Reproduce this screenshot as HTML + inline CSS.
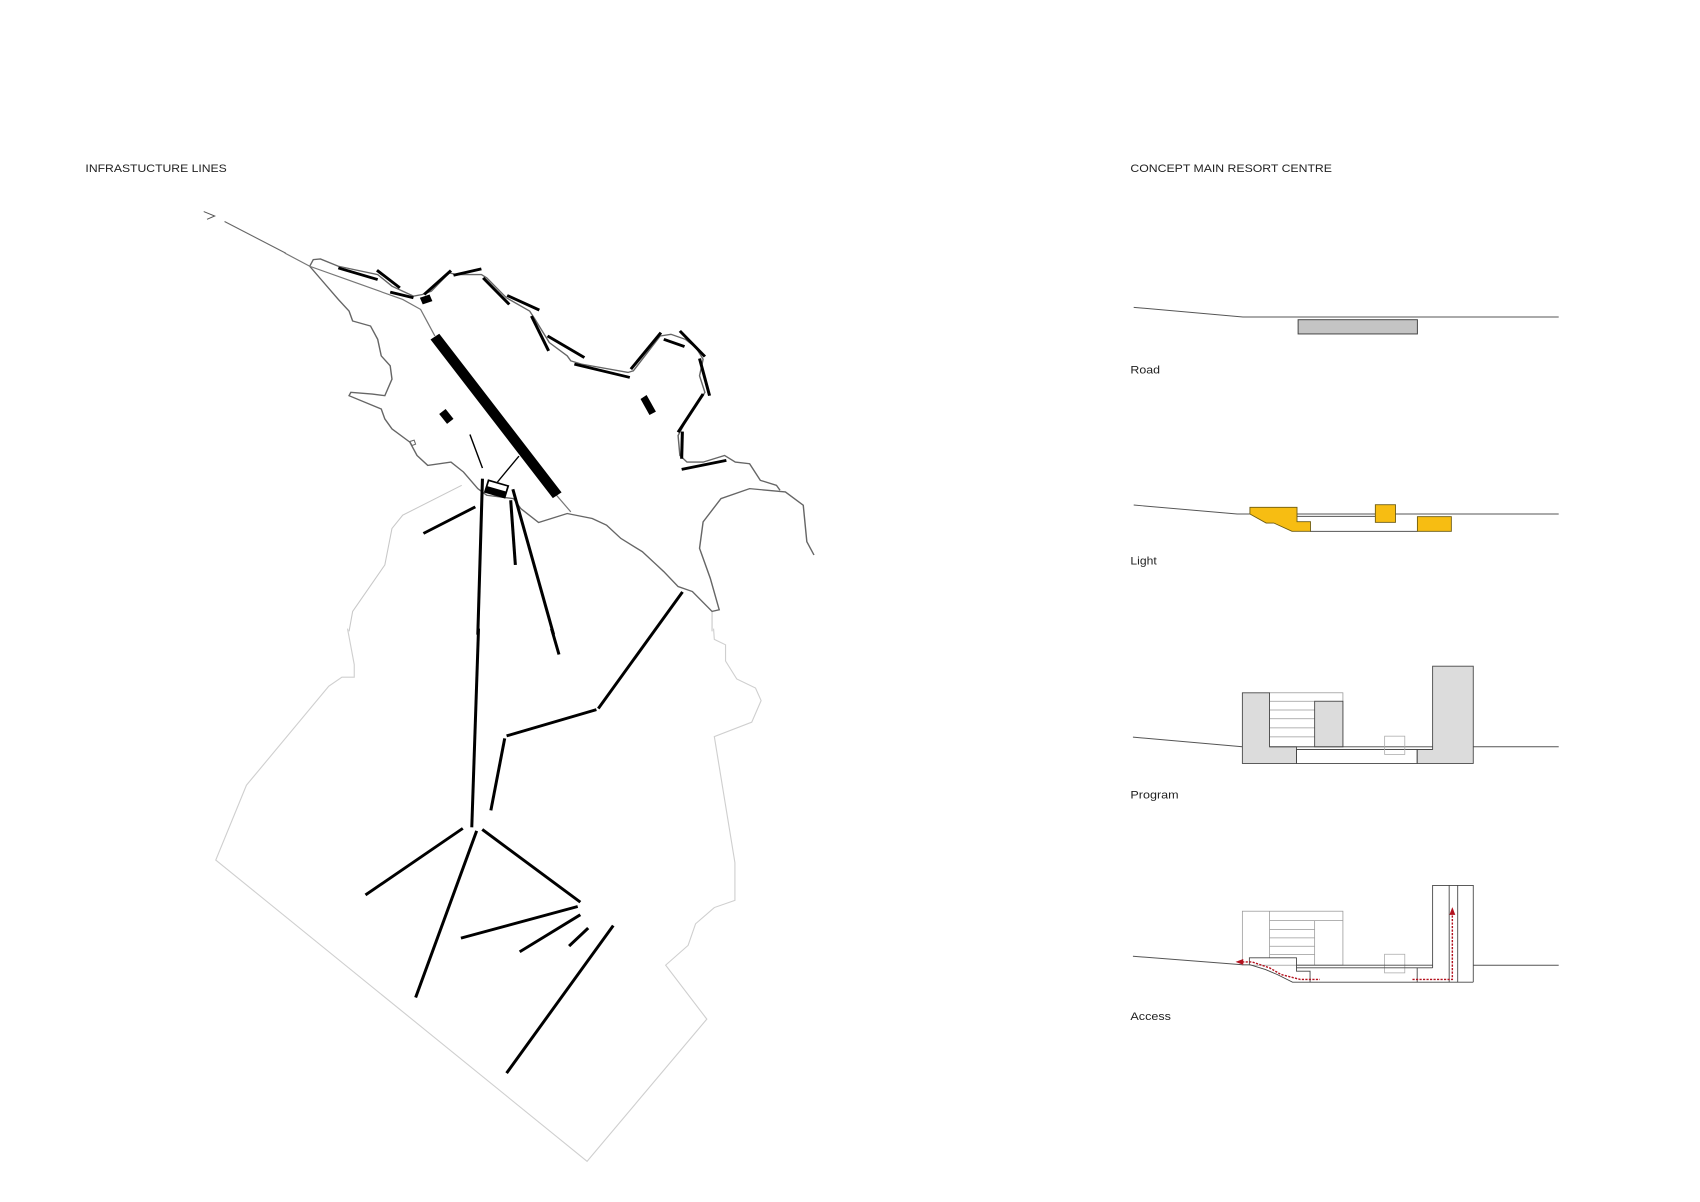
<!DOCTYPE html>
<html><head><meta charset="utf-8"><style>
html,body{margin:0;padding:0;background:#fff;}
svg{display:block;}
text{font-family:"Liberation Sans",sans-serif;fill:#222;}
</style></head><body>
<svg width="1700" height="1202" viewBox="0 0 1552 1097" xmlns="http://www.w3.org/2000/svg">
<rect width="1552" height="1097" fill="#fff"/>
<text x="78" y="157" font-size="10" textLength="129" lengthAdjust="spacingAndGlyphs">INFRASTUCTURE LINES</text>
<text x="1032" y="157" font-size="10" textLength="184" lengthAdjust="spacingAndGlyphs">CONCEPT MAIN RESORT CENTRE</text>

<polyline points="186,193 196,197 189,200" fill="none" stroke="#555" stroke-width="0.9"/>
<line x1="205" y1="202" x2="261" y2="231" stroke="#666" stroke-width="1"/>

<g transform="translate(259.9,212.6) scale(0.3265,0.303)" fill="none" stroke-linecap="butt">
  <polyline points="495,760 330,850 300,890 280,1000 190,1140 180,1200" stroke="#c8c8c8" stroke-width="3"/>
  <polyline points="1195,1140 1195,1200" stroke="#c8c8c8" stroke-width="3"/>
  <path d="M70,100 L80,80 L100,78 L150,100 L260,125 L300,160 L360,190 L385,185 L410,175 L460,120 L480,125 L550,125 L565,135 L620,195 L685,235 L700,260 L740,330 L790,370 L800,385 L830,395 L960,420 L975,415 L1050,310 L1080,305 L1120,320 L1150,345 L1170,380 L1160,430 L1175,480 L1150,520 L1120,570 L1100,610 L1105,670 L1125,690 L1170,690 L1230,670 L1260,690 L1300,695 L1330,745 L1375,760 L1385,775" stroke="#666" stroke-width="4"/>
  <path d="M1480,970 L1460,930 L1450,820 L1400,780 L1300,770 L1220,800 L1170,870 L1160,950 L1190,1040 L1215,1135 L1195,1140 L1140,1080 L1100,1065 L1060,1020 L1040,1000 L1000,960 L940,920 L900,880 L860,860 L790,845 L710,872 L660,830 L640,800 L565,790 L540,770 L500,720 L465,690 L400,700 L370,670 L350,630 L300,590 L280,560 L270,530 L180,490 L185,480 L245,485 L280,490 L300,440 L295,400 L270,370 L260,320 L240,280 L190,265 L180,235 L150,200 L110,150 L70,100" stroke="#666" stroke-width="4"/>
  <polyline points="0,60 70,100 200,150 330,200 380,230 400,270 420,310" stroke="#777" stroke-width="3.5"/>
  <polyline points="760,790 800,840" stroke="#777" stroke-width="3.5"/>
  <line x1="420" y1="312" x2="762" y2="790" stroke="#000" stroke-width="30"/>
  <g stroke="#000" stroke-width="8.5">
    <line x1="150" y1="105" x2="260" y2="140"/>
    <line x1="258" y1="112" x2="322" y2="165"/>
    <line x1="295" y1="178" x2="360" y2="195"/>
    <line x1="390" y1="185" x2="465" y2="113"/>
    <line x1="472" y1="127" x2="550" y2="108"/>
    <line x1="555" y1="135" x2="628" y2="215"/>
    <line x1="622" y1="188" x2="712" y2="232"/>
    <line x1="690" y1="250" x2="738" y2="355"/>
    <line x1="735" y1="310" x2="838" y2="375"/>
    <line x1="810" y1="395" x2="965" y2="435"/>
    <line x1="968" y1="410" x2="1052" y2="300"/>
    <line x1="1060" y1="320" x2="1118" y2="342"/>
    <line x1="1105" y1="295" x2="1175" y2="372"/>
    <line x1="1160" y1="378" x2="1188" y2="490"/>
    <line x1="1170" y1="485" x2="1100" y2="600"/>
    <line x1="1112" y1="598" x2="1110" y2="680"/>
    <line x1="1110" y1="712" x2="1235" y2="685"/>
    <line x1="533" y1="825" x2="388" y2="905"/>
    <line x1="553" y1="740" x2="540" y2="1210"/>
    <line x1="632" y1="805" x2="645" y2="1000"/>
    <line x1="638" y1="772" x2="752" y2="1210"/>
  </g>
  <g stroke="#000" stroke-width="4">
    <line x1="518" y1="607" x2="553" y2="708"/>
    <line x1="655" y1="672" x2="595" y2="750"/>
  </g>
  <polygon points="378,195 405,185 413,205 386,215" fill="#000" stroke="none"/>
  <polygon points="432,545 450,530 472,560 454,575" fill="#000" stroke="none"/>
  <polygon points="995,500 1012,488 1038,538 1020,548" fill="#000" stroke="none"/>
  <polygon points="570,745 625,762 615,797 560,780" fill="#fff" stroke="#000" stroke-width="5"/>
  <polygon points="565,762 620,779 615,797 560,780" fill="#000"/>
  <path d="M350,628 L362,624 L366,636 L356,640 Z" stroke="#666" stroke-width="3"/>
</g>

<g transform="translate(184,573.7) scale(0.3417,0.3286)" fill="none">
  <polyline points="390,0 408,100 408,135 375,135 340,160 120,435 38,643 1030,1480 1350,1085 1240,935 1300,880 1320,820 1370,775 1425,755 1425,650 1370,300 1470,260 1495,200 1480,165 1430,140 1400,90 1400,45 1370,30 1368,0" stroke="#cfcfcf" stroke-width="3"/>
  <g stroke="#000" stroke-width="8">
    <line x1="740" y1="0" x2="722" y2="552"/>
    <line x1="935" y1="0" x2="955" y2="72"/>
    <line x1="1285" y1="-102" x2="1060" y2="222"/>
    <line x1="1055" y1="225" x2="815" y2="298"/>
    <line x1="810" y1="305" x2="773" y2="505"/>
    <line x1="698" y1="555" x2="438" y2="740"/>
    <line x1="735" y1="562" x2="572" y2="1025"/>
    <line x1="750" y1="558" x2="1012" y2="760"/>
    <line x1="1005" y1="772" x2="693" y2="860"/>
    <line x1="1012" y1="795" x2="850" y2="898"/>
    <line x1="1033" y1="832" x2="982" y2="882"/>
    <line x1="1100" y1="825" x2="815" y2="1235"/>
  </g>
</g>

<polyline points="1035,280.4 1134.7,289.2 1423,289.2" fill="none" stroke="#555" stroke-width="0.9"/>
<rect x="1185.1" y="291.7" width="108.9" height="13" fill="#c4c4c4" stroke="#444" stroke-width="0.9"/>
<text x="1032" y="341" font-size="10" textLength="27" lengthAdjust="spacingAndGlyphs">Road</text>

<polyline points="1035,460.9 1129.4,469.1 1141,469.1" fill="none" stroke="#555" stroke-width="0.9"/>
<line x1="1184" y1="469.1" x2="1423" y2="469.1" stroke="#555" stroke-width="0.9"/>
<line x1="1184" y1="471.2" x2="1256" y2="471.2" stroke="#555" stroke-width="0.9"/>
<line x1="1196" y1="484.9" x2="1294" y2="484.9" stroke="#555" stroke-width="0.9"/>
<polygon points="1141.1,463 1184.1,463 1184.1,476.1 1196.4,476.1 1196.4,484.9 1179.5,484.9 1162.9,477.3 1155.9,477.3 1141.1,469.1" fill="#f7bd12" stroke="#6b5a10" stroke-width="0.8"/>
<rect x="1255.6" y="460.6" width="18.4" height="16.1" fill="#f7bd12" stroke="#6b5a10" stroke-width="0.8"/>
<rect x="1294" y="471.5" width="31" height="13.4" fill="#f7bd12" stroke="#6b5a10" stroke-width="0.8"/>
<text x="1032" y="515" font-size="10" textLength="24" lengthAdjust="spacingAndGlyphs">Light</text>

<polyline points="1034.3,672.8 1134.2,681.6" fill="none" stroke="#555" stroke-width="0.9"/>
<line x1="1345" y1="681.6" x2="1423" y2="681.6" stroke="#555" stroke-width="0.9"/>
<rect x="1159" y="632.3" width="67" height="49.3" fill="none" stroke="#999" stroke-width="0.7"/>
<g stroke="#999" stroke-width="0.7">
  <line x1="1159" y1="640" x2="1200" y2="640"/>
  <line x1="1159" y1="648" x2="1200" y2="648"/>
  <line x1="1159" y1="656" x2="1200" y2="656"/>
  <line x1="1159" y1="664.3" x2="1200" y2="664.3"/>
  <line x1="1159" y1="672.5" x2="1200" y2="672.5"/>
</g>
<rect x="1200.2" y="640" width="25.8" height="41.6" fill="#dcdcdc" stroke="#444" stroke-width="0.8"/>
<polygon points="1134.2,632.3 1159,632.3 1159,681.6 1183.6,681.6 1183.6,696.8 1134.2,696.8" fill="#dcdcdc" stroke="#444" stroke-width="0.8"/>
<polygon points="1307.9,608 1345,608 1345,696.8 1293.8,696.8 1293.8,684 1307.9,684" fill="#dcdcdc" stroke="#444" stroke-width="0.8"/>
<line x1="1159" y1="681.6" x2="1307.9" y2="681.6" stroke="#444" stroke-width="0.8"/>
<line x1="1183.6" y1="684" x2="1307.9" y2="684" stroke="#444" stroke-width="0.8"/>
<rect x="1183.6" y="684" width="110.2" height="12.8" fill="none" stroke="#444" stroke-width="0.8"/>
<rect x="1264.1" y="671.9" width="18.4" height="16.7" fill="none" stroke="#aaa" stroke-width="0.7"/>
<text x="1032" y="729" font-size="10" textLength="44" lengthAdjust="spacingAndGlyphs">Program</text>

<polyline points="1034.3,872.8 1134.2,880.6 1140.6,880.6" fill="none" stroke="#555" stroke-width="0.9"/>
<line x1="1345" y1="881" x2="1423" y2="881" stroke="#555" stroke-width="0.9"/>
<rect x="1134.2" y="831.7" width="91.8" height="49.3" fill="none" stroke="#999" stroke-width="0.7"/>
<g stroke="#999" stroke-width="0.7">
  <line x1="1159" y1="831.7" x2="1159" y2="874"/>
  <line x1="1200.2" y1="840.3" x2="1200.2" y2="881"/>
  <line x1="1159" y1="840.3" x2="1226" y2="840.3"/>
  <line x1="1159" y1="848.5" x2="1200" y2="848.5"/>
  <line x1="1159" y1="856" x2="1200" y2="856"/>
  <line x1="1159" y1="863.7" x2="1200" y2="863.7"/>
  <line x1="1159" y1="871.3" x2="1200" y2="871.3"/>
</g>
<rect x="1264" y="871" width="18.5" height="17" fill="none" stroke="#aaa" stroke-width="0.7"/>
<polyline points="1140.6,880.4 1140.6,874.3 1183.6,874.3 1183.6,886.5 1196,886.5 1196,896.5" fill="none" stroke="#444" stroke-width="0.8"/>
<polyline points="1140.6,880.4 1155.4,885 1166,889.5 1180,896.5 1345,896.5" fill="none" stroke="#444" stroke-width="0.8"/>
<line x1="1183.6" y1="881" x2="1307.9" y2="881" stroke="#444" stroke-width="0.8"/>
<line x1="1183.6" y1="883.4" x2="1307.9" y2="883.4" stroke="#444" stroke-width="0.8"/>
<line x1="1293.8" y1="883.4" x2="1293.8" y2="896.5" stroke="#444" stroke-width="0.8"/>
<polyline points="1307.9,883.4 1307.9,808.2 1345,808.2 1345,896.5" fill="none" stroke="#444" stroke-width="0.8"/>
<line x1="1323" y1="808.2" x2="1323" y2="896.5" stroke="#444" stroke-width="0.8"/>
<line x1="1330.8" y1="808.2" x2="1330.8" y2="896.5" stroke="#444" stroke-width="0.8"/>
<polyline points="1134,878 1143,878 1159,883.4 1169.5,889.5 1187,894 1205,894" fill="none" stroke="#b3121f" stroke-width="1.3" stroke-dasharray="2,1.2"/>
<polygon points="1128,878 1135,875.3 1135,880.7" fill="#b3121f"/>
<polyline points="1289.5,894 1325.9,894 1325.9,834" fill="none" stroke="#b3121f" stroke-width="1.3" stroke-dasharray="2,1.2"/>
<polygon points="1325.9,828 1323.2,835 1328.6,835" fill="#b3121f"/>
<text x="1032" y="931" font-size="10" textLength="37" lengthAdjust="spacingAndGlyphs">Access</text>
</svg>
</body></html>
